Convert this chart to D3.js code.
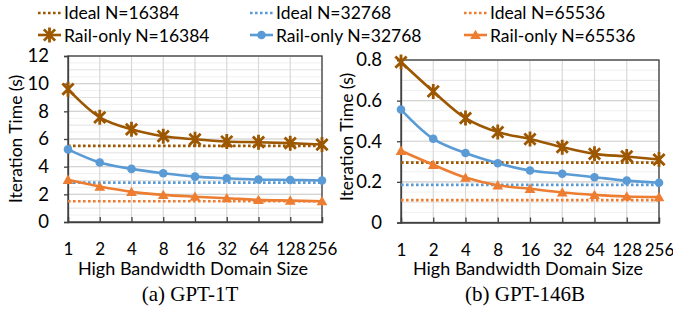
<!DOCTYPE html>
<html lang="en">
<head>
<meta charset="UTF-8">
<title>Rail-only iteration time</title>
<script src="https://d3js.org/d3.v7.min.js"></script>
<style>
  body { margin: 0; background: #fff; }
  text { font-family: 'Lato', 'DejaVu Sans', sans-serif; fill: #000; }
  .caption { font-family: 'Liberation Serif', 'Times New Roman', serif; }
</style>
</head>
<body>
<div id="chart"></div>
<script>
// categories (x axis)
const sizes = ["1", "2", "4", "8", "16", "32", "64", "128", "256"];
const seriesNames = ["N=16384", "N=32768", "N=65536"];
const colors = ["#9c5700", "#5b9bd5", "#ed7d31"];

// (a) GPT-1T
const gpt1tRail16384 = [9.6, 7.57, 6.7, 6.2, 5.98, 5.82, 5.77, 5.7, 5.6];
const gpt1tRail32768 = [5.25, 4.3, 3.84, 3.52, 3.28, 3.16, 3.07, 3.04, 3.0];
const gpt1tRail65536 = [3.05, 2.56, 2.18, 1.96, 1.83, 1.72, 1.6, 1.55, 1.5];
const gpt1tIdeal = [5.5, 2.85, 1.5];
const gpt1tTicks = [0, 2, 4, 6, 8, 10, 12];

// (b) GPT-146B
const gpt146bRail16384 = [0.79, 0.645, 0.514, 0.445, 0.411, 0.371, 0.338, 0.325, 0.31];
const gpt146bRail32768 = [0.556, 0.412, 0.342, 0.292, 0.256, 0.24, 0.223, 0.206, 0.196];
const gpt146bRail65536 = [0.353, 0.284, 0.221, 0.183, 0.166, 0.148, 0.136, 0.128, 0.125];
const gpt146bIdeal = [0.295, 0.185, 0.11];
const gpt146bTicks = [0, 0.2, 0.4, 0.6, 0.8];
const gpt146bTickLabels = ["0", "0.2", "0.4", "0.6", "0.8"];

const panels = [
  { left: 68, right: 322, top: 56, bottom: 222, max: 12, ticks: gpt1tTicks,
    tickLabels: gpt1tTicks.map(String), rail: [gpt1tRail16384, gpt1tRail32768, gpt1tRail65536],
    ideal: gpt1tIdeal, caption: "(a) GPT-1T", titleX: 16, titleY: 139 },
  { left: 401, right: 659, top: 60, bottom: 222.5, max: 0.8, ticks: gpt146bTicks,
    tickLabels: gpt146bTickLabels, rail: [gpt146bRail16384, gpt146bRail32768, gpt146bRail65536],
    ideal: gpt146bIdeal, caption: "(b) GPT-146B", titleX: 347, titleY: 137 }
];

const width = 673, height = 312;
const svg = d3.select('#chart').append('svg')
  .attr('width', width)
  .attr('height', height);

// star marker like Excel's "*" (x plus vertical bar)
function starPath(r) {
  const d = r * 0.75;
  return `M${-d},${-d}L${d},${d}M${-d},${d}L${d},${-d}M0,${-r}L0,${r}`;
}

function drawMarker(g, i, x, y) {
  if (i === 0) {
    g.append('path').attr('d', starPath(7.5))
      .attr('transform', `translate(${x},${y})`)
      .attr('stroke', colors[0]).attr('stroke-width', 2.8).attr('fill', 'none');
  } else if (i === 1) {
    g.append('circle').attr('cx', x).attr('cy', y).attr('r', 4.3).attr('fill', colors[1]);
  } else {
    g.append('path').attr('d', d3.symbol(d3.symbolTriangle, 50)())
      .attr('transform', `translate(${x},${y + 1})`).attr('fill', colors[2]);
  }
}

panels.forEach(p => {
  const g = svg.append('g');
  const x = d3.scalePoint().domain(sizes).range([p.left, p.right]);
  const y = d3.scaleLinear().domain([0, p.max]).range([p.bottom, p.top]);
  const step = p.ticks[1] - p.ticks[0];

  // minor gridlines
  const quarter = d3.range(0, p.max + 1e-9, step / 4);
  g.selectAll('.minor').data(quarter).enter().append('line')
    .attr('x1', p.left).attr('x2', p.right)
    .attr('y1', d => y(d)).attr('y2', d => y(d))
    .attr('stroke', (d, i) => i % 2 === 0 ? '#e2e2e2' : '#f0f0f0')
    .attr('stroke-width', 1);

  // major gridlines
  g.selectAll('.major').data(p.ticks).enter().append('line')
    .attr('x1', p.left).attr('x2', p.right)
    .attr('y1', d => y(d)).attr('y2', d => y(d))
    .attr('stroke', '#d4d4d4').attr('stroke-width', 1.2);

  // vertical gridlines
  g.selectAll('.vgrid').data(sizes).enter().append('line')
    .attr('x1', d => x(d)).attr('x2', d => x(d))
    .attr('y1', p.top).attr('y2', p.bottom)
    .attr('stroke', '#d9d9d9').attr('stroke-width', 1.2);

  // frame
  g.append('rect')
    .attr('x', p.left).attr('y', p.top)
    .attr('width', p.right - p.left).attr('height', p.bottom - p.top)
    .attr('fill', 'none').attr('stroke', '#404040').attr('stroke-width', 1.3);

  // y axis
  const yAxis = d3.axisLeft(y).tickValues(p.ticks)
    .tickFormat((d, i) => p.tickLabels[i]).tickSize(4).tickPadding(15);
  const ya = g.append('g').attr('transform', `translate(${p.left},0)`).call(yAxis);
  ya.select('.domain').attr('stroke', '#404040').attr('stroke-width', 1.3);
  ya.selectAll('.tick line').attr('stroke', '#404040').attr('stroke-width', 1.3);
  ya.selectAll('.tick text').style('font-size', '18.5px').style('font-family', 'Lato').attr('fill', '#000');

  // x axis (ticks point inward)
  const xAxis = d3.axisBottom(x).tickSize(-5).tickPadding(21);
  const xa = g.append('g').attr('transform', `translate(0,${p.bottom})`).call(xAxis);
  xa.select('.domain').attr('stroke', '#404040').attr('stroke-width', 1.3);
  xa.selectAll('.tick line').attr('stroke', '#404040').attr('stroke-width', 1.3);
  xa.selectAll('.tick text').style('font-size', '17px').style('font-family', 'Lato').attr('fill', '#000');

  // ideal lines (dotted)
  p.ideal.forEach((v, i) => {
    g.append('line')
      .attr('x1', x(sizes[0])).attr('x2', x(sizes[sizes.length - 1]))
      .attr('y1', y(v)).attr('y2', y(v))
      .attr('stroke', colors[i]).attr('stroke-width', 2.6)
      .attr('stroke-dasharray', '2.6,2.4');
  });

  // rail-only lines, smoothed
  const line = d3.line()
    .x((d, i) => x(sizes[i]))
    .y(d => y(d))
    .curve(d3.curveCatmullRom.alpha(0.5));
  p.rail.forEach((vals, i) => {
    g.append('path').datum(vals)
      .attr('d', line)
      .attr('fill', 'none').attr('stroke', colors[i]).attr('stroke-width', 2.6);
    vals.forEach((v, j) => drawMarker(g, i, x(sizes[j]), y(v)));
  });

  // axis titles
  g.append('text')
    .attr('transform', `translate(${p.titleX},${p.titleY}) rotate(-90)`)
    .attr('text-anchor', 'middle').attr('dy', '0.35em')
    .style('font-size', '17.5px')
    .text('Iteration Time (s)');

  const cx = (p.left + p.right) / 2;
  g.append('text')
    .attr('x', cx - 2).attr('y', 275)
    .attr('text-anchor', 'middle')
    .style('font-size', '18px')
    .text('High Bandwidth Domain Size');

  g.append('text').attr('class', 'caption')
    .attr('x', cx - 5).attr('y', 301)
    .attr('text-anchor', 'middle')
    .style('font-size', '21px')
    .text(p.caption);
});

// legend
const legendCols = [38, 250, 464];
const legend = svg.append('g');
seriesNames.forEach((name, i) => {
  const lx = legendCols[i];
  // ideal row
  legend.append('line')
    .attr('x1', lx).attr('x2', lx + 23).attr('y1', 13).attr('y2', 13)
    .attr('stroke', colors[i]).attr('stroke-width', 2.6).attr('stroke-dasharray', '2.6,2.4');
  legend.append('text')
    .attr('x', lx + 26).attr('y', 19)
    .style('font-size', '17.5px')
    .text('Ideal ' + name);
  // rail-only row
  legend.append('line')
    .attr('x1', lx).attr('x2', lx + 23).attr('y1', 35).attr('y2', 35)
    .attr('stroke', colors[i]).attr('stroke-width', 2.6);
  drawMarker(legend, i, lx + 11.5, 35);
  legend.append('text')
    .attr('x', lx + 26).attr('y', 41.5)
    .style('font-size', '17.5px')
    .text('Rail-only ' + name);
});
</script>
</body>
</html>
